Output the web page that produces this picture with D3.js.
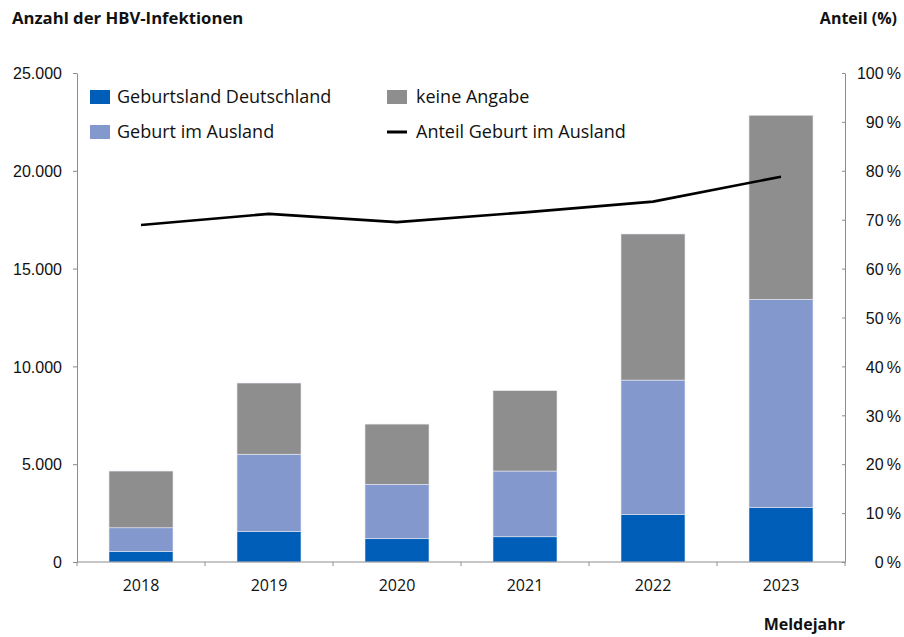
<!DOCTYPE html>
<html>
<head>
<meta charset="utf-8">
<script src="https://cdn.jsdelivr.net/npm/d3@7"></script>
<style>
  body { margin: 0; background: #fff; }
  svg { display: block; font-family: "Open Sans", sans-serif; }
  .axis path, .axis line { stroke: #8c8c8c; }
  .axis text { fill: #111; font-size: 16px; }
</style>
</head>
<body>
<svg width="904" height="637"></svg>
<script>
// Data
var years = ['2018', '2019', '2020', '2021', '2022', '2023'];
var deutschland = [530, 1550, 1190, 1290, 2420, 2780];
var ausland = [1220, 3960, 2780, 3360, 6880, 10650];
var keineAngabe = [2900, 3640, 3080, 4110, 7470, 9410];
var anteilAusland = [68.9, 71.2, 69.5, 71.5, 73.7, 78.8];

var leftTicks = [0, 5000, 10000, 15000, 20000, 25000];
var rightTicks = [0, 10, 20, 30, 40, 50, 60, 70, 80, 90, 100];

var seriesKeys = ['de', 'al', 'ka'];
var colors = { de: '#005eb8', al: '#8399cd', ka: '#8f8e8f' };

var svg = d3.select('svg');

// Plot area
var margin = { left: 77, right: 59, top: 73, bottom: 75 };
var width = 904 - margin.left - margin.right;
var height = 637 - margin.top - margin.bottom;

var g = svg.append('g')
  .attr('transform', 'translate(' + margin.left + ',' + margin.top + ')');

// Build rows for the stack
var rows = years.map(function (y, i) {
  return { year: y, de: deutschland[i], al: ausland[i], ka: keineAngabe[i], pct: anteilAusland[i] };
});

var x = d3.scaleBand()
  .domain(years)
  .range([0, width])
  .paddingInner(0.5)
  .paddingOuter(0.25);

var y = d3.scaleLinear().domain([0, 25000]).range([height, 0]);
var yPct = d3.scaleLinear().domain([0, 100]).range([height, 0]);

var fmt = function (d) { return d3.format(',')(d).replace(/,/g, '.'); };

// Left axis
g.append('g')
  .attr('class', 'axis')
  .call(d3.axisLeft(y).tickValues(leftTicks).tickFormat(fmt).tickSizeInner(4).tickSizeOuter(0).tickPadding(11))
  .call(function (s) { s.selectAll('text').attr('dy', '0.36em'); });

// Right axis
g.append('g')
  .attr('class', 'axis axis--right')
  .attr('transform', 'translate(' + width + ',0)')
  .call(d3.axisRight(yPct).tickValues(rightTicks).tickFormat(function (d) { return d + '\u2009%'; })
    .tickSizeInner(-3).tickSizeOuter(0).tickPadding(0))
  .call(function (s) {
    s.selectAll('text').attr('x', 56).attr('text-anchor', 'end').attr('dy', '0.36em');
  });

// Stacked bars
var stack = d3.stack().keys(seriesKeys);
var layers = stack(rows);

g.selectAll('.layer')
  .data(layers)
  .enter().append('g')
  .attr('class', 'layer')
  .attr('fill', function (d) { return colors[d.key]; })
  .selectAll('rect')
  .data(function (d) { return d; })
  .enter().append('rect')
  .attr('x', function (d) { return x(d.data.year); })
  .attr('y', function (d) { return y(d[1]); })
  .attr('width', x.bandwidth())
  .attr('height', function (d) { return y(d[0]) - y(d[1]); })
  .attr('stroke', '#e6e9f2')
  .attr('stroke-width', 0.6);

// Bottom axis with ticks between categories
var xAxisG = g.append('g')
  .attr('class', 'axis')
  .attr('transform', 'translate(0,' + height + ')');

xAxisG.append('line')
  .attr('x1', 0).attr('x2', width);

xAxisG.selectAll('.sep')
  .data(d3.range(years.length + 1))
  .enter().append('line')
  .attr('class', 'sep')
  .attr('x1', function (i) { return i * x.step(); })
  .attr('x2', function (i) { return i * x.step(); })
  .attr('y1', 0).attr('y2', 4);

xAxisG.selectAll('.lbl')
  .data(years)
  .enter().append('text')
  .attr('class', 'lbl')
  .attr('x', function (d) { return x(d) + x.bandwidth() / 2; })
  .attr('y', 29)
  .attr('text-anchor', 'middle')
  .text(function (d) { return d; });

// Share line
var line = d3.line()
  .x(function (d) { return x(d.year) + x.bandwidth() / 2; })
  .y(function (d) { return yPct(d.pct); });

g.append('path')
  .datum(rows)
  .attr('fill', 'none')
  .attr('stroke', '#000')
  .attr('stroke-width', 2.6)
  .attr('stroke-linejoin', 'round')
  .attr('d', line);

// Titles
svg.append('text')
  .attr('x', 12).attr('y', 24)
  .attr('font-size', 16.7).attr('font-weight', 'bold').attr('fill', '#111')
  .text('Anzahl der HBV-Infektionen');

svg.append('text')
  .attr('x', 897).attr('y', 24)
  .attr('text-anchor', 'end')
  .attr('font-size', 16).attr('font-weight', 'bold').attr('fill', '#111')
  .text('Anteil (%)');

svg.append('text')
  .attr('x', 845).attr('y', 630)
  .attr('text-anchor', 'end')
  .attr('font-size', 16).attr('font-weight', 'bold').attr('fill', '#111')
  .text('Meldejahr');

// Legend
var legendItems = [
  { label: 'Geburtsland Deutschland', type: 'rect', color: colors.de, x: 90, y: 97 },
  { label: 'Geburt im Ausland', type: 'rect', color: colors.al, x: 90, y: 132 },
  { label: 'keine Angabe', type: 'rect', color: colors.ka, x: 387, y: 97 },
  { label: 'Anteil Geburt im Ausland', type: 'line', color: '#000', x: 387, y: 132 }
];

var legend = svg.selectAll('.legend')
  .data(legendItems)
  .enter().append('g')
  .attr('class', 'legend')
  .attr('transform', function (d) { return 'translate(' + d.x + ',' + d.y + ')'; });

legend.filter(function (d) { return d.type === 'rect'; })
  .append('rect')
  .attr('x', 0).attr('y', -7)
  .attr('width', 20).attr('height', 14)
  .attr('fill', function (d) { return d.color; });

legend.filter(function (d) { return d.type === 'line'; })
  .append('line')
  .attr('x1', 0).attr('x2', 20)
  .attr('stroke', '#000').attr('stroke-width', 3);

legend.append('text')
  .attr('x', function (d) { return d.x > 300 ? 29 : 27; })
  .attr('dy', '0.36em')
  .attr('font-size', 18)
  .attr('fill', '#111')
  .text(function (d) { return d.label; });
</script>
</body>
</html>
